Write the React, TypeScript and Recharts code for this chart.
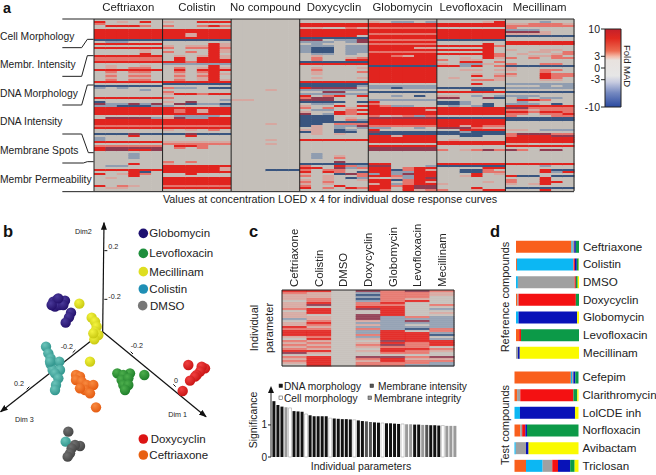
import React from 'react';
import { BarChart, Bar, XAxis, YAxis, Cell, ReferenceLine, ScatterChart, Scatter } from 'recharts';

const W = 656, H = 475;
const FONT = '"Liberation Sans", Arial, sans-serif';
const INK = '#222';
const HEAT: Record<string, string> = { '.': '#c4bfb9', R: '#e1241f', r: '#e5746c', p: '#d6a7a0', B: '#39557f', b: '#909db0', D: '#8f3b50' };

// ---------- panel a ----------
const compoundsA = ['Ceftriaxon', 'Colistin', 'No compound', 'Doxycyclin', 'Globomycin', 'Levofloxacin', 'Mecillinam'];
const ceftriaxonRows = '. R.p.R. r..... .RRRr. . R R R R R B .bb... R . R ....p. ....p. ....R. R r r R . .p..p. .p.rr. R .r.rr. .p.pp. .r.rr. .p.pp. .r.rr. R . B b.b... ....b. . . . R . B..... DbbDbD bbBBBb R R R R . .DDDDb R R R r R . . BBBDBB ...R.. b..... b..... R . r RDDDDD RDDRRD . ...b.. ...b.. ...b.. . . ...R.. .bb... . R ...RB. R.pRr. ...R.. .p.... . . . R.rp.. .pp... .'.split(' ');
const colistinRows = '. p..RRR . r..rRr . R R RRpRRR RRpRRR R B . ....Rp p.ppRp r.rrRr ....Rp r.r.Rp ....R. .p.pRp .R.RRp .R.RRR RRrRRR b ....R. .r.pRp .R.RRR .r.rR. .p.pRp .r.rR. .p.pR. .r.pRp R B . rbb.BB . r..... pRRrRR . r..... .....b p.D... .DBbbB b....b R RrRpRR RrRpRR R .bbbb. pDbbRR R R R r R p.p.r. . BBDBBB ..R... . . p r .RRr.. .r.r.. . . . . . . r.r... p..... R RRRRRp RRRRRp R ..R... . R R R R r R'.split(' ');
const noCompoundRows = Array.from({ length: 86 }, (_, i) => (i === 35 || i === 52 || i === 60 || i === 62 ? '...p..' : i === 40 ? 'pp....' : i === 75 ? '...BBB' : '.'));
const doxycyclinRows = '. . R R pp..rp R R R RRRRR. B DD.bbD bbb.bD .b.... bbb.bb bBB.bb bBB.bb bBB.bb .bb.b. .p.... .r..pr .r..RR B R . .p...p .r.... .p...r .p.... . .p...p . R B BBBBBb RDDDD. b ..DD.. b R.rR.R rDD... DDD... BBBB.B .bb... p..R.R r.r.p. .bb.rR p..Rr. D.bRrR BBB... BBB.p. BBB.rb BBBBBB BB.rrr Bp.bbD .p.b.b pp.Bb. Bp.BB. .p.p.. . . R . . . . . . .b.... .b.p.. .b.r.. . ...D.. B r..Rrb RR.Dbr r.rr.. R.Rr.B p..BDr r.p..r ..p.Bb p.p..p r.r... p.p... r..R.. R.r.Rr .'.split(' ');
const globomycinRows = '. p.bb.b R R r R R r R R r R r R RRRRpp R r R RRrpRR R R R R B R R R R R R R R . b bbBbbb . B . ..b.B. . b R..... r..... Rrbb.. R RRRRRp R R r.prbr D R R R r bb..b. R..... DBBBBB BBBBBB RRpRRR R R R . R D D . . . . . . RR.... DD...b RR.rRR RRBrRp RRbbRR bRbDRR RRrbRR p.pbRD RRBrRR RR.rRp pRbrRR RRrRDD RR.RDD Rr.Rpr'.split(' ');
const levofloxacinRows = '. ....pR R R . R R R R R B . ....R. RRRRRr ....R. RRRRR. ....R. RRRRRr ....Rr ..p.Rp r.pp.. ..RR.r p.bbp. RRbR.r . ..pp.p . ...p.p ...R.r .p...p ...rrp . ...R.. . B ...BB. R . pp.b.b DD..DB . BBb... BBb.B. .b.bB. R R R R . B R R R RRpRrr DDDrpp ..RRRR BBbBBB BBBBBB ..BB.. . .p.... R R . . r.prDr . . . . . . R B ....RR ..BBr. ..BBrr ...R.p ..pR.. . . ....p. p..... . ...R.. r..pRR'.split(' ');
const mecillinamRows = '. ...b.. pprrrp r r..... bbb... DDDp.. pppp.. B . . R R . . p..pp. ..pp.r .p..pr ..ppr. r.r.rr . . r..rr. B p..... p..rr. ...r.. r..Rrr p..Rrr ...Rr. ...pp. . b ...b.b b . B . bbb... .b.bb. .RRr.. .b.... bbb.B. R DDrrrr rrprrr RRrRRr rr.rrR r...rr BBBBBB BBBBBB . . . . pp.bbb . rDDDrr rRRRDD R R R pp.... R . Dr.DD. . . . . . . R ...b.. . ...RBB ...RbR . RBB.BB ...R.. r..R.. r..RR. p.pR.. . B ...R..'.split(' ');
const panelsA = [ceftriaxonRows, colistinRows, noCompoundRows, doxycyclinRows, globomycinRows, levofloxacinRows, mecillinamRows];
const ROWS_A = 86;
const COLS_A = 42;
const rowsA = Array.from({ length: ROWS_A }, (_, i) => {
  const o: Record<string, number> = { row: i };
  for (let c = 0; c < COLS_A; c++) o['c' + c] = 1;
  return o;
});
const codeAt = (rows: string[], r: number, c: number) => {
  const t = rows[r] ?? '.';
  return t.length === 1 ? t : t[c] ?? '.';
};

// ---------- colour bar ----------
const colorBarData = [{ name: 'Fold MAD', range: [-10, 10] }];
const colorBarTicks = [10, 3, 0, -3, -10];

// ---------- panel b ----------
type P = { x: number; y: number };
const pts = (a: number[][]): P[] => a.map(([x, y]) => ({ x, y }));
const dimAxes = [
  { name: 'Dim2', to: { x: 312, y: 38 } },
  { name: 'Dim3', to: { x: 2, y: 605 } },
  { name: 'Dim1', to: { x: 618, y: 620 } },
];
const origin = { x: 308, y: 365 };
const axisTicks = [[313, 122, 322, 122], [313, 268, 322, 268], [226, 420, 218, 428], [88, 530, 80, 538], [392, 425, 399, 432], [520, 523, 527, 530]];
const globomycinPts = pts([[160, 275], [172, 268], [185, 275], [195, 272], [165, 290], [178, 285], [155, 285], [190, 285], [213, 308], [207, 322], [197, 338], [175, 265]]);
const mecillinamPts = pts([[238, 281], [275, 323], [285, 335], [290, 350], [285, 365], [295, 375], [283, 388], [280, 370], [270, 455]]);
const colistinPts = pts([[138, 410], [145, 430], [152, 445], [178, 455], [152, 463], [158, 480], [180, 480], [165, 490], [175, 505], [168, 525], [165, 540], [150, 455], [197, 695]]);
const ceftriaxonePts = pts([[228, 495], [240, 500], [228, 510], [245, 515], [260, 525], [280, 525], [255, 540], [270, 550], [240, 535], [288, 592]]);
const levofloxacinPts = pts([[352, 490], [390, 490], [370, 495], [365, 510], [385, 505], [370, 525], [385, 525], [375, 540], [433, 495]]);
const doxycyclinPts = pts([[565, 465], [615, 475], [605, 470], [600, 485], [590, 495], [585, 500], [570, 512], [548, 543]]);
const dmsoPts = pts([[205, 665], [240, 708], [225, 705], [215, 715], [210, 730], [203, 740]]);
const clusters = [
  { id: 'glo', data: globomycinPts, hi: '#4a3a9a', lo: '#23106a' },
  { id: 'mec', data: mecillinamPts, hi: '#f4f440', lo: '#c8c810' },
  { id: 'col', data: colistinPts, hi: '#6cc4ba', lo: '#2f948c' },
  { id: 'cef', data: ceftriaxonePts, hi: '#f88a40', lo: '#e45a10' },
  { id: 'lev', data: levofloxacinPts, hi: '#4cae4c', lo: '#1e7e2a' },
  { id: 'dox', data: doxycyclinPts, hi: '#f04040', lo: '#c81414' },
  { id: 'dms', data: dmsoPts, hi: '#707070', lo: '#444444' },
];
const legendB = [
  { label: 'Globomycin', c: '#1e1070', x: 430, tx: 448, y: 70 },
  { label: 'Levofloxacin', c: '#1e8f3c', x: 430, tx: 448, y: 130 },
  { label: 'Mecillinam', c: '#dede20', x: 430, tx: 448, y: 185 },
  { label: 'Colistin', c: '#1f8fb5', x: 430, tx: 448, y: 237 },
  { label: 'DMSO', c: '#777777', x: 428, tx: 450, y: 287 },
  { label: 'Doxycyclin', c: '#dc1414', x: 430, tx: 452, y: 687 },
  { label: 'Ceftriaxone', c: '#e8600f', x: 430, tx: 448, y: 735 },
];
const smallB = [['Dim2', 225, 65], ['0.2', 325, 110], ['-0.2', 325, 260], ['-0.2', 182, 410], ['0.2', 42, 520], ['-0.2', 392, 407], ['0', 522, 512], ['Dim 3', 45, 627], ['Dim 1', 505, 612]] as [string, number, number][];

// ---------- panel c ----------
const compoundsC = ['Ceftriaxone', 'Colistin', 'DMSO', 'Doxycyclin', 'Globomycin', 'Levofloxacin', 'Mecillinam'];
const rowsCodesC = 'RR.DrDr rp.brrp pp.Brrp pp.brr. pr.Brp. .r.brR. pR.rR.. pD.rr.r p..RR.. rR.DR.b .R..R.. pR..R.p p..DR.. pp.Dbrb bp.Dbbb .r.pbDb pR.bbbb pr.pb.b Rp.bbbb rr.rbBr RR.bR.r RR.bRRb RR.rRRB pr.bRR. .R.pRRb rp..DRR pr.pRrR rp.rDrR pr.prr. rp..RRr RR.pRrp Dp..rr. ....... rR.DDrD pR.rRpp rR.pRrr pR.rrrb .R.rrbb'.split(' ');
const rowsC = rowsCodesC.map((code, i) => ({ row: i, code, c0: 1, c1: 1, c2: 1, c3: 1, c4: 1, c5: 1, c6: 1 }));

const sigValues = [1.74, 1.62, 1.57, 1.55, 1.53, 1.43, 1.42, 1.41, 1.34, 1.30, 1.27, 1.27, 1.27, 1.27, 1.21, 1.20, 1.19, 1.18, 1.18, 1.17, 1.16, 1.14, 1.12, 1.11, 1.09, 1.08, 1.07, 1.06, 1.05, 1.05, 1.04, 1.03, 1.03, 1.02, 1.02, 1.01, 1.01, 1.0, 1.0, 0.99, 0.99, 0.98, 0.98, 0.97, 0.97, 0.97];
const sigTypes = 'kkkgwkkkwkkkkkwkkkkkwkkddkkwkkkkwggkkgdkkkwggg'.split('');
const TYPE_FILL: Record<string, string> = { k: '#111', w: '#fff', d: '#555', g: '#9a9a9a' };
const sigData = sigValues.map((v, i) => ({ i, v, t: sigTypes[i] ?? 'g' }));
const sigLegend = [
  { label: 'DNA morphology', c: '#111', x: 279, tx: 284, y: 386 },
  { label: 'Membrane intensity', c: '#555', x: 370, tx: 378, y: 386 },
  { label: 'Cell morphology', c: '#fff', x: 279, tx: 284, y: 398 },
  { label: 'Membrane integrity', c: '#9a9a9a', x: 368, tx: 374, y: 398 },
];

// ---------- panel d ----------
const SERIES_D = ['orange', 'cyan', 'gray', 'red', 'blue', 'green', 'yellow'];
const FILL_D: Record<string, string> = { orange: '#f95f1c', cyan: '#0cb7f3', gray: '#a0a0a0', red: '#f41112', blue: '#0812b8', green: '#0c9a48', yellow: '#fafa00' };
const refCompounds = ['Ceftriaxone', 'Colistin', 'DMSO', 'Doxycyclin', 'Globomycin', 'Levofloxacin', 'Mecillinam'];
const refShares = [
  [88, 2, 2, 0.5, 2.5, 5, 0],
  [1.5, 89, 1, 2, 3, 3, 0.5],
  [0, 3, 90, 2, 0, 3, 2],
  [2, 0, 2, 91, 0, 5, 0],
  [0, 4, 0, 0, 93, 0, 3],
  [5, 0, 0, 3, 0, 92, 0],
  [0, 0, 3, 0, 3, 0, 94],
];
const testCompounds = ['Cefepim', 'Clarithromycin', 'LolCDE inh', 'Norfloxacin', 'Avibactam', 'Triclosan'];
const testShares = [
  [88, 2, 2, 0, 3, 5, 0],
  [4, 0, 5, 83, 0, 6, 2],
  [0, 8.5, 0, 0, 86, 0, 5.5],
  [9, 0, 3, 5, 2.5, 80.5, 0],
  [0, 2, 16, 0, 4, 0, 78],
  [18, 26, 15, 9, 19, 7, 6],
];
const toRows = (names: string[], shares: number[][]) =>
  names.map((name, i) => {
    const o: Record<string, any> = { name };
    SERIES_D.forEach((s, j) => (o[s] = shares[i][j]));
    return o;
  });

const layer: React.CSSProperties = { position: 'absolute', left: 0, top: 0 };

function Ball(props: any) {
  const { cx, cy, gid } = props;
  if (cx == null) return null;
  return <circle cx={cx} cy={cy} r={5.2} fill={`url(#${gid})`} />;
}

function HeatA() {
  return (
    <div style={{ ...layer, filter: 'blur(0.4px)' }}>
      <BarChart width={W} height={H} data={rowsA} layout="vertical" barCategoryGap={0} barGap={0} margin={{ top: 0, left: 94, right: 82, bottom: 284 }}>
        <XAxis
          type="number"
          domain={[0, COLS_A]}
          orientation="top"
          height={19}
          ticks={compoundsA.map((_, i) => 3 + 6 * i)}
          interval={0}
          axisLine={false}
          tickLine={false}
          tick={(p: any) => (
            <text x={p.x} y={11} textAnchor="middle" fontSize={11.4} fill={INK}>
              {compoundsA[(p.payload.value - 3) / 6]}
            </text>
          )}
        />
        <YAxis type="category" dataKey="row" hide />
        {Array.from({ length: COLS_A }, (_, c) => (
          <Bar
            key={c}
            dataKey={'c' + c}
            stackId="h"
            isAnimationActive={false}
            shape={(p: any) => (
              <rect x={p.x} y={p.y} width={p.width + 0.5} height={p.height + 0.5} fill={HEAT[codeAt(panelsA[Math.floor(c / 6)], p.index, c % 6)] ?? HEAT['.']} />
            )}
          />
        ))}
        {[0, 6, 12, 18, 24, 30, 36, 42].map((x) => (
          <ReferenceLine key={x} x={x} stroke="#222" strokeWidth={1} />
        ))}
      </BarChart>
    </div>
  );
}

function HeatC() {
  return (
    <div style={{ ...layer, filter: 'blur(0.4px)' }}>
      <BarChart width={W} height={H} data={rowsC} layout="vertical" barCategoryGap={0} barGap={0} margin={{ top: 280, left: 282, right: 202, bottom: 109 }}>
        <XAxis
          type="number"
          domain={[0, 7]}
          orientation="top"
          height={10}
          ticks={compoundsC.map((_, i) => i + 0.5)}
          interval={0}
          axisLine={false}
          tickLine={false}
          tick={(p: any) => (
            <text transform={`translate(${p.x + 4},287) rotate(-90)`} fontSize={11.4} fill={INK} textAnchor="start">
              {compoundsC[Math.round(p.payload.value - 0.5)]}
            </text>
          )}
        />
        <YAxis type="category" dataKey="row" hide />
        {compoundsC.map((_, c) => (
          <Bar
            key={c}
            dataKey={'c' + c}
            stackId="h"
            isAnimationActive={false}
            shape={(p: any) => (
              <rect x={p.x} y={p.y} width={p.width + 0.5} height={p.height + 0.5} fill={HEAT[rowsC[p.index].code[c]]} fillOpacity={0.9} />
            )}
          />
        ))}
        {[0, 7].map((x) => (
          <ReferenceLine key={x} x={x} stroke="#222" strokeWidth={1} />
        ))}
      </BarChart>
    </div>
  );
}

function ColorBar() {
  return (
    <div style={layer}>
      <BarChart width={W} height={H} data={colorBarData} barCategoryGap={0} margin={{ top: 29, left: 575, right: 35, bottom: 368 }}>
        <defs>
          <linearGradient id="madGrad" x1="0" y1="0" x2="0" y2="1">
            <stop offset="0%" stopColor="#c4202a" />
            <stop offset="12%" stopColor="#e0291f" />
            <stop offset="28%" stopColor="#ec6a50" />
            <stop offset="35%" stopColor="#f4b8a6" />
            <stop offset="40%" stopColor="#e8e2de" />
            <stop offset="60%" stopColor="#e6e6e6" />
            <stop offset="68%" stopColor="#c8cce0" />
            <stop offset="82%" stopColor="#7488c0" />
            <stop offset="100%" stopColor="#2a4aa0" />
          </linearGradient>
        </defs>
        <XAxis dataKey="name" hide />
        <YAxis width={30} domain={[-10, 10]} ticks={colorBarTicks} interval={0} tickSize={4} tickMargin={1} tick={{ fontSize: 10.5, fill: INK }} axisLine={false} tickLine={{ stroke: '#222' }} />
        <Bar dataKey="range" fill="url(#madGrad)" stroke="#222" strokeWidth={1} isAnimationActive={false} />
      </BarChart>
    </div>
  );
}

function ScatterB() {
  return (
    <div style={{ ...layer, top: 210 }}>
      <ScatterChart width={260} height={265} margin={{ top: 0, left: 0, right: 0, bottom: 0 }}>
        <defs>
          <marker id="arrowB" markerWidth="9" markerHeight="9" refX="7" refY="3" orient="auto" markerUnits="userSpaceOnUse">
            <path d="M0,0 L8,3 L0,6 z" fill="#111" />
          </marker>
          {clusters.map((c) => (
            <radialGradient key={c.id} id={'g' + c.id} cx="38%" cy="32%" r="70%">
              <stop offset="0%" stopColor={c.hi} />
              <stop offset="100%" stopColor={c.lo} />
            </radialGradient>
          ))}
        </defs>
        <XAxis type="number" dataKey="x" domain={[0, 780]} hide />
        <YAxis type="number" dataKey="y" domain={[0, 795]} reversed hide />
        {dimAxes.map((a) => (
          <ReferenceLine
            key={a.name}
            segment={[origin, a.to]}
            stroke="#111"
            strokeWidth={1.2}
            shape={(p: any) => <line x1={p.x1} y1={p.y1} x2={p.x2} y2={p.y2} stroke="#111" strokeWidth={1.2} markerEnd="url(#arrowB)" />}
          />
        ))}
        {axisTicks.map((t, i) => (
          <ReferenceLine key={i} segment={[{ x: t[0], y: t[1] }, { x: t[2], y: t[3] }]} stroke="#111" strokeWidth={1} />
        ))}
        {clusters.map((c) => (
          <Scatter key={c.id} data={c.data} isAnimationActive={false} shape={(p: any) => <Ball {...p} gid={'g' + c.id} />} />
        ))}
      </ScatterChart>
    </div>
  );
}

function SigBars() {
  return (
    <div style={layer}>
      <BarChart width={W} height={H} data={sigData} barCategoryGap="10%" margin={{ top: 388, left: 251, right: 195, bottom: 18 }}>
        <XAxis dataKey="i" tick={false} tickLine={false} height={0} axisLine={{ stroke: '#333' }} padding={{ left: 1, right: 4 }} />
        <YAxis width={20} domain={[0, 2.15]} ticks={[0, 1]} interval={0} tickSize={3} tickMargin={1} tick={{ fontSize: 10, fill: INK }} axisLine={{ stroke: '#222' }} tickLine={{ stroke: '#222' }} />
        <Bar dataKey="v" isAnimationActive={false}>
          {sigData.map((d) => (
            <Cell key={d.i} fill={TYPE_FILL[d.t]} stroke={d.t === 'w' ? '#999' : 'none'} strokeWidth={0.5} />
          ))}
        </Bar>
      </BarChart>
    </div>
  );
}

function StackD({ names, shares, top, bottom, left, right }: { names: string[]; shares: number[][]; top: number; bottom: number; left: number; right: number }) {
  return (
    <div style={layer}>
      <BarChart width={W} height={H} data={toRows(names, shares)} layout="vertical" barCategoryGap={3} margin={{ top, left, right: 0, bottom: H - bottom }}>
        <XAxis type="number" domain={[0, 100]} hide />
        <YAxis
          type="category"
          dataKey="name"
          orientation="right"
          width={W - right}
          interval={0}
          axisLine={false}
          tickLine={false}
          tick={(p: any) => (
            <text x={right + 4} y={p.y + 4} fontSize={11.6} fill={INK} textAnchor="start">
              {p.payload.value}
            </text>
          )}
        />
        {SERIES_D.map((s) => (
          <Bar key={s} dataKey={s} stackId="d" fill={FILL_D[s]} isAnimationActive={false} />
        ))}
      </BarChart>
    </div>
  );
}

function Overlay() {
  const brackets = [
    [187, 143, 245, 143, 262, 118, 281, 118],
    [187, 229, 245, 229, 262, 167, 281, 167],
    [187, 315, 245, 315, 262, 255, 281, 255],
    [187, 402, 245, 402, 265, 458, 281, 458],
    [187, 489, 250, 489, 262, 485, 281, 485],
    [187, 57, 1722, 57],
    [187, 575, 1722, 575],
  ];
  const yLabels = [['Cell Morphology', 40], ['Membr. Intensity', 68], ['DNA Morphology', 97], ['DNA Intensity', 125], ['Membrane Spots', 154], ['Membr Permeability', 183]] as [string, number][];
  const ox = 0, oy = 210;
  return (
    <svg width={W} height={H} style={{ ...layer, pointerEvents: 'none' }}>
      {/* a */}
      <text x={3} y={13} fontSize={14.4} fontWeight="bold" fill="#111">a</text>
      {yLabels.map(([t, y]) => (
        <text key={t} x={0} y={y} fontSize={10.3} fill={INK}>{t}</text>
      ))}
      {brackets.map((b, i) => (
        <polyline key={i} points={b.map((v) => v / 3).join(' ')} fill="none" stroke="#222" strokeWidth={1} />
      ))}
      <text x={330} y={203} textAnchor="middle" fontSize={10.8} fill={INK}>Values at concentration LOED x 4 for individual dose response curves</text>
      <text transform="translate(624,45) rotate(90)" fontSize={9.5} fill={INK}>Fold MAD</text>
      {/* b */}
      <text x={3} y={237} fontSize={16.5} fontWeight="bold" fill="#111">b</text>
      {legendB.map((l) => (
        <g key={l.label}>
          <circle cx={ox + l.x / 3} cy={oy + l.y / 3} r={4.8} fill={l.c} />
          <text x={ox + l.tx / 3} y={oy + l.y / 3 + 4} fontSize={11.5} fill={INK}>{l.label}</text>
        </g>
      ))}
      {smallB.map(([t, x, y], i) => (
        <text key={i} x={x / 3} y={oy + y / 3 + 2.5} fontSize={7.2} fill={INK}>{t}</text>
      ))}
      {/* c */}
      <text x={249} y={237} fontSize={16.5} fontWeight="bold" fill="#111">c</text>
      <text transform="translate(258,328) rotate(-90)" textAnchor="middle" fontSize={11} fill={INK}>Individual</text>
      <text transform="translate(273,328) rotate(-90)" textAnchor="middle" fontSize={11} fill={INK}>parameter</text>
      <text transform="translate(257,420) rotate(-90)" textAnchor="middle" fontSize={10.5} fill={INK}>Significance</text>
      <polyline points="282,290 454,290" stroke="#222" fill="none" />
      <polyline points="282,366 454,366" stroke="#222" fill="none" />
      <polygon points="271,386 268,393 274,393" fill="#111" />
      <text x={361} y={470} textAnchor="middle" fontSize={10.5} fill={INK}>Individual parameters</text>
      {sigLegend.map((l) => (
        <g key={l.label}>
          <rect x={l.x} y={l.y - 2} width={3.6} height={3.6} fill={l.c} stroke="#333" strokeWidth={0.5} />
          <text x={l.tx} y={l.y + 3.5} fontSize={10.2} fill={INK}>{l.label}</text>
        </g>
      ))}
      {/* d */}
      <text x={490} y={237} fontSize={16.5} fontWeight="bold" fill="#111">d</text>
      <text transform="translate(509,297) rotate(-90)" textAnchor="middle" fontSize={11} fill={INK}>Reference compounds</text>
      <text transform="translate(509,425) rotate(-90)" textAnchor="middle" fontSize={11} fill={INK}>Test compounds</text>
    </svg>
  );
}

export default function App() {
  return (
    <div style={{ position: 'absolute', left: 0, top: 0, width: W, height: H, overflow: 'hidden', background: '#fff', fontFamily: FONT }}>
      <HeatA />
      <ColorBar />
      <ScatterB />
      <HeatC />
      <SigBars />
      <StackD names={refCompounds} shares={refShares} top={237.8} bottom={361.5} left={516} right={579} />
      <StackD names={testCompounds} shares={testShares} top={368.5} bottom={474.5} left={514.5} right={578.5} />
      <Overlay />
    </div>
  );
}
